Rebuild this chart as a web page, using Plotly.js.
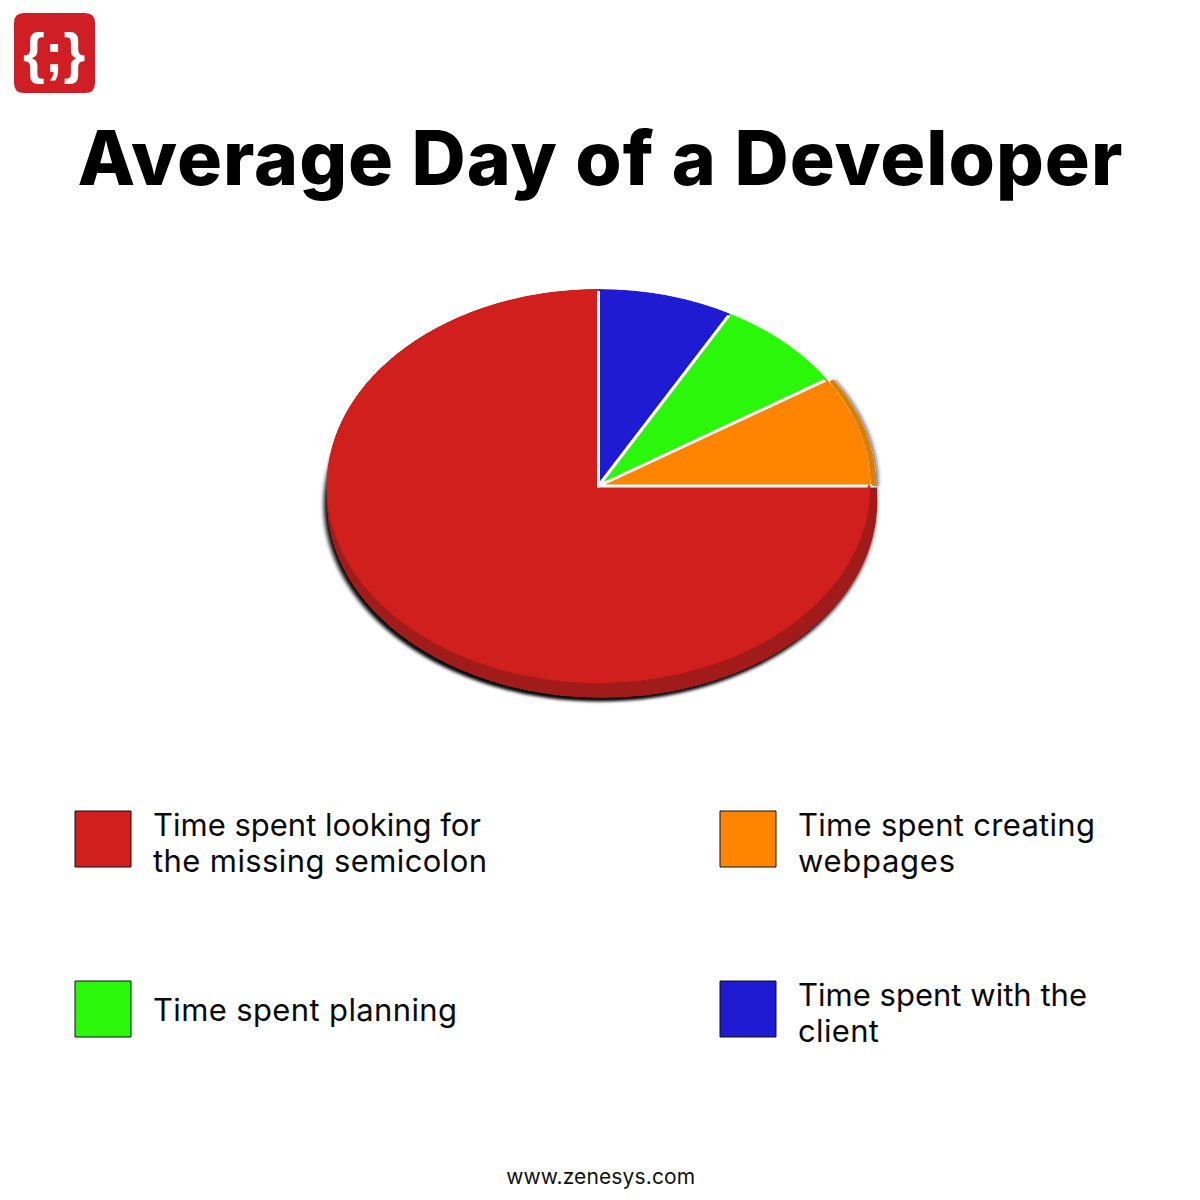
<!DOCTYPE html>
<html>
<head>
<meta charset="utf-8">
<script src="https://cdn.plot.ly/plotly-3.0.1.min.js"></script>
<style>
html,body{margin:0;padding:0;background:#fff}
#chart{width:1200px;height:1200px}
</style>
</head>
<body>
<div id="chart"></div>
<script>
// ---- data ----
var chartTitle = "Average Day of a Developer";
var footerText = "www.zenesys.com";
var logoText = "{;}";
var sliceNames = ["Time spent looking for the missing semicolon", "Time spent with the client", "Time spent planning", "Time spent creating webpages"];
var sliceValues = [75, 8.05, 7.85, 9.1];
var sliceColors = ["#d01f1c", "#1f1bd2", "#2bf70b", "#ff8400"];
var legendLinesRed = ["Time spent looking for", "the missing semicolon"];
var legendLinesOrange = ["Time spent creating", "webpages"];
var legendLinesGreen = ["Time spent planning"];
var legendLinesBlue = ["Time spent with the", "client"];

// ---- geometry & styling ----
var W = 1200, cx = 598.5, cy = 486, rx = 272, ry = 197;
var domain = {
  x: [(cx - rx) / W, (cx + rx) / W],
  y: [(W - cy - rx) / W, (W - cy + rx) / W]
};
var NONE = "rgba(0,0,0,0)";
function flat(c){ return sliceColors.map(function(){ return c; }); }
function layer(colors, lineW, hole, dx, dy, sx, blur) {
  return {
    trace: {
      type: "pie", values: sliceValues, labels: sliceNames, sort: false,
      direction: "clockwise", rotation: 90, domain: domain, textinfo: "none",
      hoverinfo: "skip", showlegend: false, hole: hole,
      marker: {colors: colors, line: {color: "#ffffff", width: lineW}}
    },
    dx: dx, dy: dy, sx: sx, blur: blur
  };
}
var orangeRim = [NONE, NONE, NONE, "#d97e08"];
var layers = [
  layer([NONE, NONE, NONE, "#6e6e6e"], 0, 0, 8, 0, 1, 2),   // soft shadow beside the orange slice
  layer(flat("#050303"), 0, 0, 1.5, 18.5, 1.015, 2),        // drop shadow
  layer(flat("#a01b1a"), 0, 0, 3.5, 15, 1.013, 0),          // red rim
  layer(orangeRim, [0, 0, 0, 3], 0, 6, 0, 1, 0),            // orange rim
  layer(orangeRim, 0, 0.985, 6, 0, 1, 0),                   // orange rim outer band
  layer(sliceColors, [0, 3, 3, 3], 0, 0, 0, 1, 0),          // top face
  layer(sliceColors, 0, 0.99, 0, 0, 1, 0)                   // top face outer band
];

var FONT = "Inter, 'Noto Sans', sans-serif";
function px(v){ return v / W; }
function py(v){ return 1 - v / W; }
var widthByText = {};
function txt(text, x, y, size, target, opts) {
  opts = opts || {};
  if (target) widthByText[text] = target;
  return {
    text: text, x: x, y: y, xref: "paper", yref: "paper", showarrow: false,
    xanchor: opts.anchor || "left", yanchor: "middle", align: opts.anchor || "left",
    font: {family: opts.family || FONT, size: size, color: opts.color || "#0a0a0a", weight: opts.weight || 400}
  };
}
function lines(arr, widths, x, yStart) {
  return arr.map(function(t, i){ return txt(t, px(x - 3), py(yStart + i * 36), 31, widths[i]); });
}
function swatch(x, y, color) {
  return {type: "rect", xref: "paper", yref: "paper",
    x0: px(x), x1: px(x + 56), y0: py(y), y1: py(y + 56),
    fillcolor: color, line: {color: "#111111", width: 1}};
}
var annotations = [
  txt(chartTitle, 0.5 - 0.5 / W, py(157), 75, 1045, {anchor: "center", weight: 800, color: "#000000"}),
  txt(logoText, px(54), py(52), 56, null, {anchor: "center", weight: 700, color: "#ffffff", family: "'Liberation Sans', sans-serif"}),
  txt(footerText, 0.5, py(1176), 21, 189, {anchor: "center", color: "#111111"})
].concat(
  lines(legendLinesRed, [328, 334], 154, 824.5),
  lines(legendLinesOrange, [297, 157], 799, 824.5),
  lines(legendLinesGreen, [304], 154, 1009.5),
  lines(legendLinesBlue, [289, 81], 799, 994.5)
);
var logoPath = "M 24 13 H 85 Q 95 13 95 23 V 83 Q 95 93 85 93 H 24 Q 14 93 14 83 V 23 Q 14 13 24 13 Z";
var layout = {
  width: 1200, height: 1200, margin: {l: 0, r: 0, t: 0, b: 0},
  paper_bgcolor: "#ffffff", plot_bgcolor: "#ffffff", showlegend: false,
  xaxis: {range: [0, 1200], visible: false, domain: [0, 1]},
  yaxis: {range: [1200, 0], visible: false, domain: [0, 1]},
  annotations: annotations,
  shapes: [
    {type: "path", xref: "x", yref: "y", path: logoPath, fillcolor: "#cf1f25", line: {width: 0}},
    swatch(75, 811, sliceColors[0]),
    swatch(720, 811, sliceColors[3]),
    swatch(75, 981, sliceColors[2]),
    swatch(720, 981, sliceColors[1])
  ]
};
Plotly.newPlot("chart", layers.map(function(l){ return l.trace; }), layout, {displayModeBar: false, staticPlot: true}).then(function(){
  var k = ry / rx;
  var pieLayer = document.querySelector(".pielayer");
  var svgNS = "http://www.w3.org/2000/svg";
  // Clip the white slice borders to the pie outline so only the radial separators stay visible.
  var clip = document.createElementNS(svgNS, "clipPath");
  clip.setAttribute("id", "pieOutlineClip");
  var circle = document.createElementNS(svgNS, "circle");
  circle.setAttribute("cx", cx); circle.setAttribute("cy", cy); circle.setAttribute("r", rx);
  clip.appendChild(circle);
  pieLayer.ownerSVGElement.appendChild(clip);
  document.querySelectorAll(".pielayer .trace").forEach(function(g, i){
    var t = layers[i];
    g.setAttribute("transform", "translate(" + (cx + t.dx) + "," + (cy + t.dy) + ") scale(" + t.sx + "," + k + ") translate(" + (-cx) + "," + (-cy) + ")");
    if (t.blur) g.style.filter = "blur(" + t.blur + "px)";
    else g.setAttribute("clip-path", "url(#pieOutlineClip)");
    g.querySelectorAll("path").forEach(function(p){ p.style.vectorEffect = "non-scaling-stroke"; });
  });
  document.querySelectorAll(".annotation-text").forEach(function(n){
    var w = widthByText[n.textContent];
    if (w) { n.setAttribute("textLength", w); n.setAttribute("lengthAdjust", "spacing"); }
  });
});
</script>
</body>
</html>
